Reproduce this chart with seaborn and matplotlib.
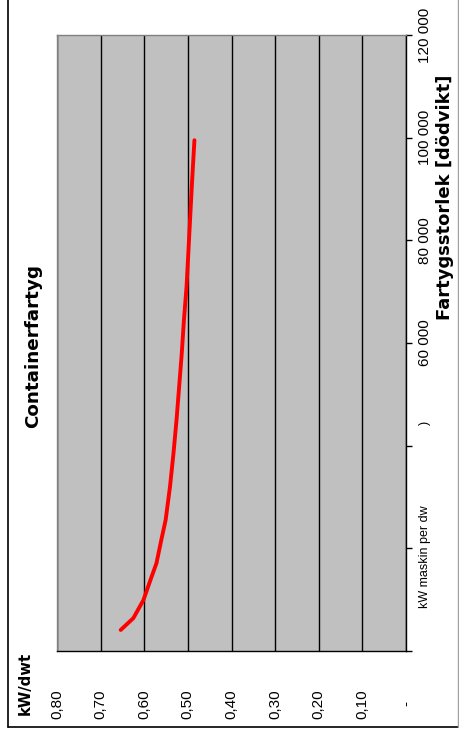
import matplotlib
matplotlib.use("Agg")
import matplotlib.pyplot as plt
from matplotlib.lines import Line2D
import pandas as pd
import seaborn as sns

# Engine power per deadweight tonne for container ships
dwt = [4100, 6400, 9900, 14500, 17100, 21600, 25500, 32000, 38500, 45000,
       51500, 58000, 64500, 71000, 77500, 84000, 90500, 99500]
kw_per_dwt = [0.654, 0.625, 0.602, 0.583, 0.572, 0.561, 0.551, 0.541, 0.533, 0.526,
              0.520, 0.514, 0.509, 0.503, 0.499, 0.495, 0.491, 0.485]

kw_ticks = [0.8, 0.7, 0.6, 0.5, 0.4, 0.3, 0.2, 0.1, 0.0]
kw_tick_labels = ["0,80", "0,70", "0,60", "0,50", "0,40", "0,30", "0,20", "0,10", "-"]
dwt_ticks = [0, 20000, 40000, 60000, 80000, 100000, 120000]
dwt_tick_labels = ["", "", "", "60 000", "80 000", "100 000", "120 000"]

title = "Containerfartyg"
value_label = "kW/dwt"
size_label = "Fartygsstorlek [dödvikt]"
series_name = "kW maskin per dw"

df = pd.DataFrame({"dwt": dwt, "kw": kw_per_dwt})

sns.set_theme(style="white")
plt.rcParams["font.family"] = ["Liberation Sans", "DejaVu Sans"]
plt.rcParams.update({"text.color": "black", "axes.labelcolor": "black",
                     "xtick.color": "black", "ytick.color": "black"})
BOLD = ["DejaVu Sans"]

W, H = 459, 739
fig = plt.figure(figsize=(W / 100, H / 100), dpi=100)
ax = fig.add_axes([57 / W, (H - 651) / H, (406 - 57) / W, (651 - 35) / H])
ax.set_facecolor("#c0c0c0")

sns.lineplot(data=df, x="kw", y="dwt", orient="y", sort=False, estimator=None,
             color="#ff0000", linewidth=2.8, ax=ax, legend=False)

ax.set_xlim(0.8, 0.0)
ax.set_ylim(0, 120000)

ax.set_xticks(kw_ticks)
ax.set_xticklabels(kw_tick_labels, rotation=90, fontsize=11)
for lbl in ax.get_xticklabels():
    lbl.set_va("center")
ax.tick_params(axis="x", direction="out", length=4, width=1, color="black", pad=34)

ax.yaxis.tick_right()
ax.set_yticks(dwt_ticks)
ax.set_yticklabels(dwt_tick_labels, rotation=90, fontsize=11)
for lbl in ax.get_yticklabels():
    lbl.set_ha("center")
    lbl.set_va("center")
ax.tick_params(axis="y", direction="out", length=4, width=1, color="black", pad=10,
               left=False, right=True)

ax.grid(axis="x", color="black", linewidth=1)
ax.grid(axis="y", visible=False)

for side in ["top", "left"]:
    ax.spines[side].set_color("#808080")
    ax.spines[side].set_linewidth(1)
for side in ["bottom", "right"]:
    ax.spines[side].set_color("black")
    ax.spines[side].set_linewidth(1)

ax.set_xlabel("")
ax.yaxis.set_label_position("right")
ax.set_ylabel(size_label, rotation=90, fontsize=13, fontweight="bold",
              family=BOLD, ha="center", va="center")
ax.yaxis.label.set_rotation_mode("default")
ax.yaxis.set_label_coords((445 - 57) / 349, (651 - 197) / 616)

fig.text(33 / W, 1 - 346 / H, title, rotation=90, fontsize=13.2, fontweight="bold",
         family=BOLD, ha="center", va="center")
fig.text(25 / W, 1 - 683 / H, value_label, rotation=90, fontsize=10.7, fontweight="bold",
         family=BOLD, ha="center", va="center")
fig.text(425 / W, 1 - 557 / H, series_name, rotation=90, fontsize=9,
         ha="center", va="center")
fig.text(425 / W, 1 - 423 / H, ")", rotation=90, fontsize=9,
         ha="center", va="center")

# chart frame
fig.add_artist(Line2D([8 / W, 8 / W], [1 - 727 / H, 1.01], color="black",
                      linewidth=1.2, transform=fig.transFigure))
fig.add_artist(Line2D([8 / W, 458 / W], [1 - 727 / H, 1 - 727 / H], color="black",
                      linewidth=1.2, transform=fig.transFigure))
fig.add_artist(Line2D([458 / W, 458 / W], [1 - 727 / H, 1.01], color="#a0a0a0",
                      linewidth=1, transform=fig.transFigure))

fig.savefig("out.png", dpi=100, facecolor="white")
